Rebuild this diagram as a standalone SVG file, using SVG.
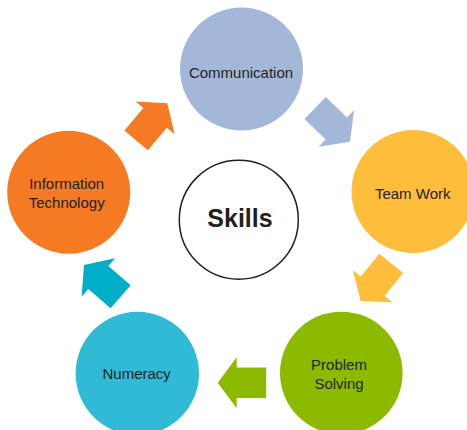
<svg xmlns="http://www.w3.org/2000/svg" xmlns:xlink="http://www.w3.org/1999/xlink" width="467" height="430" viewBox="0 0 467 430">
<style>
.lbl{font-family:"Liberation Sans",Arial,sans-serif;font-size:15px;fill:#231F20;text-anchor:middle}
.big{font-family:"Liberation Sans",Arial,sans-serif;font-size:25px;font-weight:bold;fill:#231F20;text-anchor:middle}
</style>
<defs>
<path id="arr" d="M0,0 L-19,-25.5 L-19,-15.3 L-48.5,-15.3 L-48.5,15.3 L-19,15.3 L-19,25.5 Z"/>
</defs>
<rect width="467" height="430" fill="#ffffff"/>
<g id="connectors">
<use xlink:href="#arr" href="#arr" fill="#A3B8D9" transform="translate(350,141.7) rotate(44)"/>
<use xlink:href="#arr" href="#arr" fill="#FEBD3B" transform="translate(360.7,301) rotate(129)"/>
<use xlink:href="#arr" href="#arr" fill="#8CBA00" transform="translate(217.7,382.7) rotate(180)"/>
<use xlink:href="#arr" href="#arr" fill="#00AEC8" transform="translate(84,265) rotate(-139)"/>
<use xlink:href="#arr" href="#arr" fill="#F47A24" transform="translate(167.3,103.3) rotate(-50)"/>
</g>
<g id="communication">
<circle cx="241.5" cy="69" r="61.5" fill="#A3B8D9"/>
<text class="lbl" x="241" y="77.5">Communication</text>
</g>
<g id="teamwork">
<circle cx="413" cy="191.5" r="61.5" fill="#FEBD3B"/>
<text class="lbl" x="412.7" y="199">Team Work</text>
</g>
<g id="problemsolving">
<circle cx="341.3" cy="373" r="61.3" fill="#8CBA00"/>
<text class="lbl" x="339" y="370">Problem</text>
<text class="lbl" x="339" y="388.5">Solving</text>
</g>
<g id="numeracy">
<circle cx="137.3" cy="373.4" r="61.7" fill="#31BAD6"/>
<text class="lbl" x="136.7" y="379.3">Numeracy</text>
</g>
<g id="infotech">
<circle cx="68.7" cy="192.3" r="61.5" fill="#F47A24"/>
<text class="lbl" x="66.7" y="189">Information</text>
<text class="lbl" x="66.7" y="208.3">Technology</text>
</g>
<g id="skills">
<circle cx="238.8" cy="219.7" r="59.5" fill="#ffffff" stroke="#231F20" stroke-width="1.5"/>
<text class="big" x="240" y="227.3">Skills</text>
</g>
</svg>
